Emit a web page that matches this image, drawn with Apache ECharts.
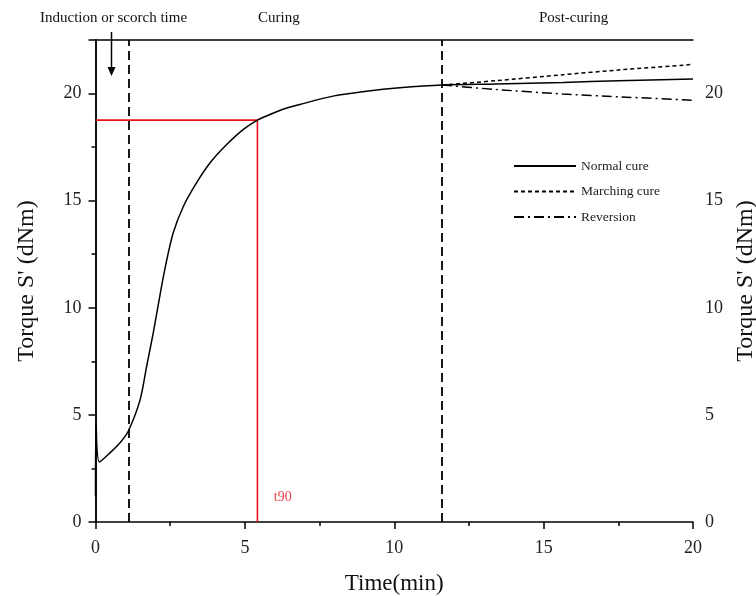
<!DOCTYPE html>
<html>
<head>
<meta charset="utf-8">
<script src="https://cdn.jsdelivr.net/npm/echarts@6/dist/echarts.min.js"></script>
<style>
  html, body { margin: 0; padding: 0; background: #fff; }
  #chart { width: 756px; height: 596px; }
</style>
</head>
<body>
<div id="chart"></div>
<script>
// values
const normalTime = [0, 0.02, 0.13, 0.5, 0.85, 1.1, 1.49, 1.71, 1.93, 2.13, 2.34, 2.6, 2.94, 3.38, 3.83, 4.39, 4.94, 5.42, 5.84, 6.3, 6.84, 7.95, 9.07, 10.18, 11.6, 13.4, 15.65, 17.5, 20]
const normalTorque = [1.2, 4.6, 2.8, 3.25, 3.75, 4.25, 5.69, 7.25, 8.81, 10.37, 11.93, 13.49, 14.73, 15.83, 16.76, 17.62, 18.32, 18.76, 19.02, 19.28, 19.49, 19.88, 20.11, 20.27, 20.4, 20.45, 20.52, 20.6, 20.68]
const postTime = [11.6, 13.4, 15.65, 17.5, 20]
const marchingTorque = [20.4, 20.6, 20.88, 21.1, 21.36]
const reversionTorque = [20.4, 20.19, 19.98, 19.85, 19.69]
const t90 = 5.42
const s90 = 18.76
const phaseBounds = [1.12, 11.6]
const xTicks = [0, 5, 10, 15, 20]
const yTicks = [0, 5, 10, 15, 20]

const serif = 'Liberation Serif'
const zip = (xs, ys) => xs.map((x, i) => [x, ys[i]])

const chart = echarts.init(document.getElementById('chart'))

const tickFmt = list => v => (list.includes(v) ? String(v) : '')

chart.setOption({
  animation: false,
  backgroundColor: '#fff',
  grid: { left: 95.5, right: 63, top: 40, bottom: 74, outerBoundsMode: 'none', containLabel: false },
  legend: {
    orient: 'vertical',
    left: 508,
    top: 154,
    itemWidth: 62,
    itemHeight: 12,
    itemGap: 11.5,
    itemStyle: { opacity: 0 },
    textStyle: { fontFamily: serif, fontSize: 13.5, color: '#222' },
    data: ['Normal cure', 'Marching cure', 'Reversion']
  },
  xAxis: [{
    type: 'value', min: 0, max: 20, interval: 5,
    name: 'Time(min)', nameLocation: 'middle', nameGap: 50,
    nameTextStyle: { fontFamily: serif, fontSize: 23, color: '#111' },
    axisLine: { lineStyle: { color: '#000', width: 1.5 } },
    axisTick: { length: 7, lineStyle: { color: '#000', width: 1.5 } },
    minorTick: { show: true, splitNumber: 2, length: 4, lineStyle: { color: '#000', width: 1.5 } },
    axisLabel: { fontFamily: serif, fontSize: 18, color: '#222', margin: 17, formatter: tickFmt(xTicks) },
    splitLine: { show: false }
  }, {
    type: 'value', min: 0, max: 20, position: 'top',
    axisLine: { onZero: false, lineStyle: { color: '#000', width: 1.5 } },
    axisTick: { show: false }, axisLabel: { show: false }, splitLine: { show: false }
  }],
  yAxis: [{
    type: 'value', min: 0, max: 22.5, interval: 5,
    name: "Torque S' (dNm)", nameLocation: 'middle', nameGap: 57,
    nameTextStyle: { fontFamily: serif, fontSize: 24, color: '#111' },
    axisLine: { show: true, lineStyle: { color: '#000', width: 1.5 } },
    axisTick: { show: true, length: 7, lineStyle: { color: '#000', width: 1.5 } },
    minorTick: { show: true, splitNumber: 2, length: 4, lineStyle: { color: '#000', width: 1.5 } },
    axisLabel: { fontFamily: serif, fontSize: 18, color: '#222', margin: 14, formatter: tickFmt(yTicks) },
    splitLine: { show: false }
  }, {
    type: 'value', min: 0, max: 22.5, interval: 5, position: 'right',
    name: "Torque S' (dNm)", nameLocation: 'middle', nameGap: 36,
    nameTextStyle: { fontFamily: serif, fontSize: 24, color: '#111' },
    axisLine: { show: true, lineStyle: { color: '#000', width: 1.5 } },
    axisTick: { show: true, inside: true, length: 7, lineStyle: { color: '#000', width: 1.5 } },
    minorTick: { show: true, splitNumber: 2, length: 4, lineStyle: { color: '#000', width: 1.5 } },
    axisLabel: { fontFamily: serif, fontSize: 18, color: '#222', margin: 12, formatter: tickFmt(yTicks) },
    splitLine: { show: false }
  }],
  series: [
    {
      name: 'Normal cure', type: 'line', showSymbol: false, symbol: 'none',
      smooth: 0.3,
      lineStyle: { color: '#000', width: 1.5 },
      itemStyle: { color: '#000' },
      data: zip(normalTime, normalTorque),
      z: 5,
      markLine: {
        silent: true, symbol: 'none', label: { show: false },
        lineStyle: { color: '#000', width: 1.8, type: [9, 5] },
        data: phaseBounds.map(x => [{ coord: [x, 0] }, { coord: [x, 22.5] }])
      }
    },
    {
      name: 'Marching cure', type: 'line', showSymbol: false, symbol: 'none',
      smooth: 0.25,
      lineStyle: { color: '#000', width: 1.5, type: [4, 3] },
      itemStyle: { color: '#000' },
      data: zip(postTime, marchingTorque)
    },
    {
      name: 'Reversion', type: 'line', showSymbol: false, symbol: 'none',
      smooth: 0.25,
      lineStyle: { color: '#000', width: 1.5, type: [10, 4, 2, 4] },
      itemStyle: { color: '#000' },
      data: zip(postTime, reversionTorque)
    },
    {
      name: 't90', type: 'line', showSymbol: false, symbol: 'none',
      lineStyle: { color: '#e8101a', width: 1.6 },
      data: [[0, s90], [t90, s90], [t90, 0]],
      z: 3
    },
    {
      type: 'scatter', symbolSize: 0,
      data: [[t90 + 0.85, 1.15]],
      label: { show: true, formatter: 't90', color: '#e8101a', fontFamily: serif, fontSize: 14, position: 'inside' }
    }
  ],
  graphic: [
    { type: 'text', left: 40, top: 11, style: { text: 'Induction or scorch time', fontFamily: serif, fontSize: 15, fill: '#111' } },
    { type: 'text', left: 258, top: 11, style: { text: 'Curing', fontFamily: serif, fontSize: 15, fill: '#111' } },
    { type: 'text', left: 539, top: 11, style: { text: 'Post-curing', fontFamily: serif, fontSize: 15, fill: '#111' } },
    { type: 'line', shape: { x1: 111.5, y1: 32, x2: 111.5, y2: 70 }, style: { stroke: '#000', lineWidth: 1.5 } },
    { type: 'polygon', shape: { points: [[107.5, 67], [115.5, 67], [111.5, 76]] }, style: { fill: '#000' } }
  ]
})
</script>
</body>
</html>
